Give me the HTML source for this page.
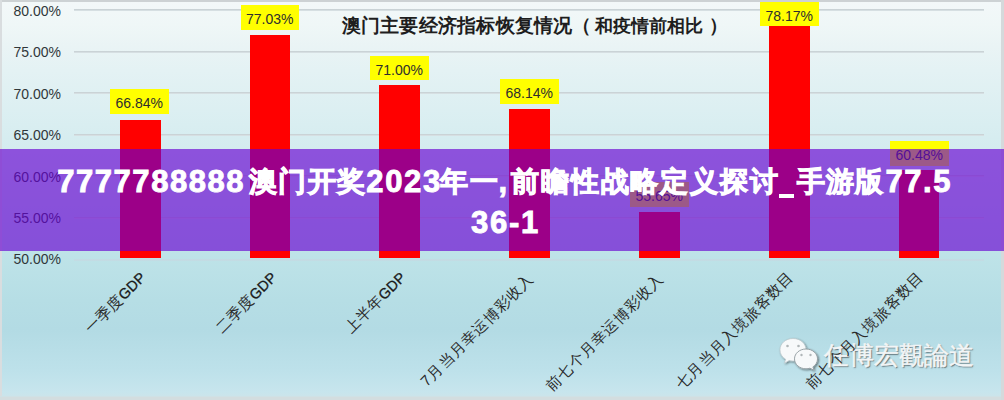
<!DOCTYPE html>
<html><head><meta charset="utf-8">
<style>
*{margin:0;padding:0;box-sizing:border-box}
html,body{width:1004px;height:400px;overflow:hidden}
body{position:relative;font-family:"Liberation Sans",sans-serif;
background:linear-gradient(180deg,#f3f8f9 0px,#eff7f7 25px,#eaf4f5 45px,#e4f2f4 70px,#d9eef1 125px,#cde9ed 180px,#bee3e8 255px,#b6dee5 300px,#b3dbe4 330px,#bde1ea 370px,#c7e5ed 392px,#cfe3e8 400px);}
.bd{position:absolute;background:#cdd2d4}
.gl{position:absolute;left:74px;width:910px;height:2px;background:#d6dfe2;border-top:1px solid #cad3d6}
.yl{position:absolute;left:0;width:61px;text-align:right;font-size:14px;color:#30373a;line-height:16px}
.bar{position:absolute;width:40.5px;background:#ff0000;bottom:141.6px}
.vb{position:absolute;width:58.5px;height:24.5px;background:#ffff00;font-size:14px;color:#2e2e2e;text-align:center;line-height:29px}
.title{position:absolute;top:12.5px;font-size:19.2px;font-weight:bold;color:#1e1e1e;white-space:nowrap;letter-spacing:0}
.xl{position:absolute;font-size:15px;letter-spacing:0.9px;color:#2a2a2a;font-weight:300;white-space:nowrap;transform-origin:100% 50%;transform:rotate(-45deg);line-height:18px;text-align:right;width:200px}
.banner{position:absolute;left:0;top:148.5px;width:1004px;height:102px;background:rgba(103,0,209,0.65)}
.bt{position:absolute;color:#fff;font-weight:bold;white-space:nowrap}
.bt.d{font-size:31px;-webkit-text-stroke:0.9px #fff}
.bt.c{font-size:27.5px;-webkit-text-stroke:1px #fff}
</style></head><body>
<div class="bd" style="left:0;top:0;width:1004px;height:2px"></div>
<div class="bd" style="left:0;top:0;width:2px;height:400px;background:#d9dddf"></div>
<div class="bd" style="left:0;top:396px;width:1004px;height:1px;background:#cfe1e5"></div>
<div class="bd" style="left:0;top:397px;width:1004px;height:3px;background:#d3dddf"></div>
<div class="bd" style="left:1001px;top:0;width:3px;height:400px;background:#d5d9db"></div>

<div class="gl" style="top:9px"></div>
<div class="gl" style="top:50.5px"></div>
<div class="gl" style="top:92px"></div>
<div class="gl" style="top:133.5px"></div>
<div class="gl" style="top:175px"></div>
<div class="gl" style="top:216.5px"></div>
<div style="position:absolute;left:74px;top:259px;width:910px;height:2px;background:rgba(205,210,222,0.4)"></div>

<div class="yl" style="top:3px">80.00%</div>
<div class="yl" style="top:44.4px">75.00%</div>
<div class="yl" style="top:85.8px">70.00%</div>
<div class="yl" style="top:127.2px">65.00%</div>
<div class="yl" style="top:168.6px">60.00%</div>
<div class="yl" style="top:210px">55.00%</div>
<div class="yl" style="top:251.4px">50.00%</div>

<div class="title" style="left:341.5px;letter-spacing:0.25px">澳门主要经济指标恢复情况</div>
<div class="title" style="left:572px">（</div>
<div class="title" style="left:594.8px;font-size:18.3px;top:13px">和疫情前相比</div>
<div class="title" style="left:708.5px">）</div>

<div class="bar" style="left:120px;top:119.5px"></div>
<div class="bar" style="left:249.5px;top:34.5px"></div>
<div class="bar" style="left:379px;top:85px"></div>
<div class="bar" style="left:509px;top:109px"></div>
<div class="bar" style="left:639px;top:212px"></div>
<div class="bar" style="left:769px;top:25.5px"></div>
<div class="bar" style="left:898.8px;top:170px"></div>

<div class="vb" style="left:110px;top:89.3px">66.84%</div>
<div class="vb" style="left:240.5px;top:5px">77.03%</div>
<div class="vb" style="left:370px;top:55.5px">71.00%</div>
<div class="vb" style="left:500px;top:79px">68.14%</div>
<div class="vb" style="left:630px;top:182px">55.65%</div>
<div class="vb" style="left:760px;top:1.5px">78.17%</div>
<div class="vb" style="left:890px;top:141px">60.48%</div>

<svg style="position:absolute;left:770px;top:330px" width="60" height="50" viewBox="770 330 60 50">
<defs><filter id="sh" x="-30%" y="-30%" width="160%" height="160%"><feGaussianBlur in="SourceAlpha" stdDeviation="0.8"/><feOffset dx="0.8" dy="1"/><feComponentTransfer><feFuncA type="linear" slope="0.5"/></feComponentTransfer><feMerge><feMergeNode/><feMergeNode in="SourceGraphic"/></feMerge></filter></defs>
<g filter="url(#sh)">
<path d="M793 338.5c7.3 0 13 5 13 11.3c0 6.3-5.7 11.3-13 11.3c-1.4 0-2.7-.2-3.9-.5l-4.6 2.6l1.1-4c-3.5-2-5.6-5.4-5.6-9.4c0-6.3 5.7-11.3 13-11.3z" fill="#f7f9fa" stroke="#b9c3c6" stroke-width="0.6"/>
<circle cx="787.5" cy="346" r="1.3" fill="#b0b6b8"/><circle cx="798.5" cy="346" r="1.3" fill="#b0b6b8"/>
<path d="M806 349c6.4 0 11.5 4.4 11.5 9.9c0 3.3-1.8 6.2-4.6 8l1.2 3.3l-4.2-2c-1.2.4-2.5.6-3.9.6c-6.4 0-11.5-4.4-11.5-9.9c0-5.5 5.1-9.9 11.5-9.9z" fill="#f7f9fa" stroke="#8f9a9e" stroke-width="0.9"/>
<circle cx="801.5" cy="355" r="1.2" fill="#b0b6b8"/><circle cx="810.5" cy="355" r="1.2" fill="#b0b6b8"/>
</g></svg>
<div style="position:absolute;left:824px;top:338.8px;font-size:25px;font-weight:300;color:#f2f5f6;-webkit-text-stroke:0.5px #f2f5f6;white-space:nowrap;text-shadow:1px 1px 1.2px rgba(50,60,65,0.75)">任博宏觀論道</div>
<div class="xl" style="left:-57px;top:266px">一季度<span style="font-size:14.5px;letter-spacing:0;color:#1a1a1a;-webkit-text-stroke:0.3px #1a1a1a">GDP</span></div>
<div class="xl" style="left:74px;top:266px">二季度<span style="font-size:14.5px;letter-spacing:0;color:#1a1a1a;-webkit-text-stroke:0.3px #1a1a1a">GDP</span></div>
<div class="xl" style="left:203px;top:266px">上半年<span style="font-size:14.5px;letter-spacing:0;color:#1a1a1a;-webkit-text-stroke:0.3px #1a1a1a">GDP</span></div>
<div class="xl" style="left:331px;top:267px">7月当月幸运博彩收入</div>
<div class="xl" style="left:461px;top:267px">前七个月幸运博彩收入</div>
<div class="xl" style="left:591px;top:265px">七月当月入境旅客数目</div>
<div class="xl" style="left:721px;top:265px">前七个月入境旅客数目</div>

<div class="banner"></div>
<div class="bt d" style="left:57.2px;top:164px;letter-spacing:1.55px">7777788888</div>
<div class="bt c" style="left:248.8px;top:163.5px;letter-spacing:1.45px">澳门开奖</div>
<div class="bt d" style="left:366.3px;top:164px;letter-spacing:1.65px">2023</div>
<div class="bt c" style="left:439.7px;top:163.5px;letter-spacing:2.2px">年一</div>
<div class="bt d" style="left:498.6px;top:164px">,</div>
<div class="bt c" style="left:511px;top:163.5px;letter-spacing:1.85px">前瞻性战略定义探讨</div>
<div style="position:absolute;left:779.2px;top:194px;width:15px;height:3.8px;background:#fff"></div>
<div class="bt c" style="left:796.9px;top:163.5px;letter-spacing:0.95px">手游版</div>
<div class="bt d" style="left:885.4px;top:164px;letter-spacing:1.6px">77.5</div>
<div class="bt d" style="left:471px;top:205px;letter-spacing:1.7px">36-1</div>
</body></html>
